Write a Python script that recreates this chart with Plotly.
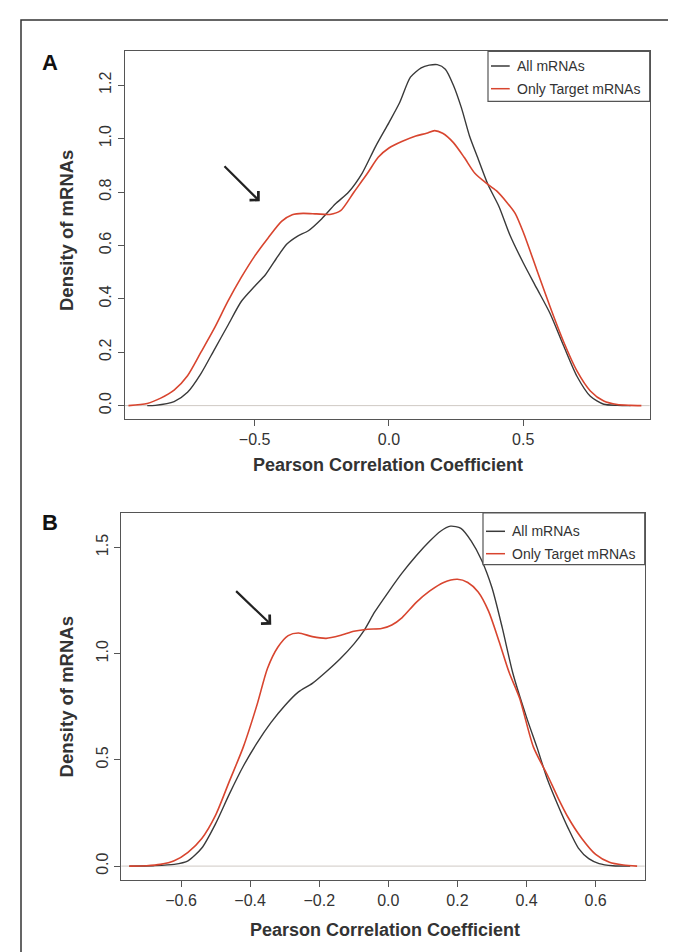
import plotly.graph_objects as go

# ---------------- data ----------------
# Panel A
a_all_x = [-0.90, -0.87, -0.80, -0.75, -0.70, -0.65, -0.60, -0.55, -0.50, -0.46, -0.42, -0.38,
           -0.34, -0.30, -0.25, -0.20, -0.15, -0.10, -0.05, 0.00, 0.04, 0.08, 0.12, 0.15, 0.18,
           0.21, 0.24, 0.27, 0.30, 0.33, 0.37, 0.41, 0.45, 0.50, 0.55, 0.60, 0.65, 0.70, 0.75,
           0.80, 0.85, 0.90]
a_all_y = [0.0, 0.001, 0.015, 0.05, 0.12, 0.21, 0.30, 0.39, 0.447, 0.49, 0.55, 0.605,
           0.635, 0.655, 0.70, 0.755, 0.80, 0.87, 0.97, 1.06, 1.135, 1.23, 1.265, 1.275, 1.277,
           1.26, 1.20, 1.115, 1.01, 0.93, 0.825, 0.745, 0.64, 0.535, 0.44, 0.345, 0.225, 0.11, 0.035,
           0.005, 0.001, 0.0]
a_tgt_x = [-0.97, -0.90, -0.85, -0.80, -0.75, -0.70, -0.65, -0.60, -0.55, -0.50, -0.45, -0.40,
           -0.36, -0.32, -0.27, -0.22, -0.18, -0.13, -0.08, -0.04, 0.00, 0.05, 0.10, 0.14, 0.17,
           0.20, 0.24, 0.28, 0.32, 0.36, 0.40, 0.44, 0.47, 0.50, 0.55, 0.60, 0.65, 0.70, 0.75,
           0.80, 0.85, 0.90, 0.94]
a_tgt_y = [0.0, 0.008, 0.028, 0.058, 0.112, 0.20, 0.29, 0.39, 0.48, 0.56, 0.628, 0.69,
           0.715, 0.72, 0.718, 0.716, 0.73, 0.80, 0.87, 0.93, 0.965, 0.99, 1.01, 1.02, 1.03,
           1.02, 0.985, 0.93, 0.87, 0.835, 0.805, 0.76, 0.72, 0.65, 0.51, 0.37, 0.24, 0.13, 0.055,
           0.017, 0.004, 0.001, 0.0]

# Panel B
b_all_x = [-0.75, -0.68, -0.62, -0.58, -0.54, -0.50, -0.46, -0.42, -0.38, -0.34, -0.30, -0.26,
           -0.22, -0.18, -0.14, -0.10, -0.07, -0.04, 0.00, 0.04, 0.08, 0.12, 0.15, 0.18, 0.21,
           0.24, 0.27, 0.30, 0.33, 0.36, 0.40, 0.43, 0.46, 0.49, 0.52, 0.55, 0.58, 0.61, 0.65, 0.70]
b_all_y = [0.0, 0.002, 0.008, 0.025, 0.085, 0.20, 0.34, 0.47, 0.58, 0.675, 0.755, 0.82,
           0.86, 0.915, 0.975, 1.045, 1.11, 1.195, 1.29, 1.38, 1.46, 1.53, 1.575, 1.60, 1.59,
           1.53, 1.44, 1.31, 1.12, 0.91, 0.70, 0.56, 0.41, 0.29, 0.18, 0.085, 0.035, 0.012, 0.002, 0.0]
b_tgt_x = [-0.75, -0.70, -0.66, -0.62, -0.58, -0.54, -0.50, -0.46, -0.42, -0.38, -0.35, -0.32,
           -0.29, -0.26, -0.22, -0.18, -0.14, -0.10, -0.06, -0.02, 0.01, 0.04, 0.08, 0.12, 0.16,
           0.20, 0.23, 0.26, 0.29, 0.32, 0.35, 0.38, 0.42, 0.46, 0.49, 0.52, 0.56, 0.60, 0.64,
           0.68, 0.72]
b_tgt_y = [0.0, 0.002, 0.008, 0.025, 0.065, 0.13, 0.24, 0.40, 0.56, 0.76, 0.93, 1.03,
           1.085, 1.097, 1.08, 1.072, 1.085, 1.105, 1.115, 1.118, 1.135, 1.17, 1.24, 1.295, 1.335,
           1.35, 1.335, 1.29, 1.20, 1.06, 0.91, 0.79, 0.56, 0.43, 0.325, 0.23, 0.13, 0.055, 0.018,
           0.005, 0.0]

series_names = ["All mRNAs", "Only Target mRNAs"]
a_xticks = [-0.5, 0.0, 0.5]
a_xlabels = ["\u22120.5", "0.0", "0.5"]
a_yticks = [0.0, 0.2, 0.4, 0.6, 0.8, 1.0, 1.2]
a_ylabels = ["0.0", "0.2", "0.4", "0.6", "0.8", "1.0", "1.2"]
b_xticks = [-0.6, -0.4, -0.2, 0.0, 0.2, 0.4, 0.6]
b_xlabels = ["\u22120.6", "\u22120.4", "\u22120.2", "0.0", "0.2", "0.4", "0.6"]
b_yticks = [0.0, 0.5, 1.0, 1.5]
b_ylabels = ["0.0", "0.5", "1.0", "1.5"]

# ---------------- style ----------------
W, H = 676, 952
BLACK = "#3a3a3a"
RED = "#d8452f"
AX = "#555555"
FONT = "Liberation Sans, Arial, sans-serif"


def px(p):
    return p / W


def py(p):
    return 1 - p / H


fig = go.Figure()
fig.add_trace(go.Scatter(x=a_all_x, y=a_all_y, mode="lines", name=series_names[0],
                         line=dict(color=BLACK, width=1.4, shape="spline", smoothing=0.7),
                         xaxis="x", yaxis="y", showlegend=False))
fig.add_trace(go.Scatter(x=a_tgt_x, y=a_tgt_y, mode="lines", name=series_names[1],
                         line=dict(color=RED, width=1.6, shape="spline", smoothing=0.7),
                         xaxis="x", yaxis="y", showlegend=False))
fig.add_trace(go.Scatter(x=b_all_x, y=b_all_y, mode="lines", name=series_names[0],
                         line=dict(color=BLACK, width=1.4, shape="spline", smoothing=0.7),
                         xaxis="x2", yaxis="y2", showlegend=False))
fig.add_trace(go.Scatter(x=b_tgt_x, y=b_tgt_y, mode="lines", name=series_names[1],
                         line=dict(color=RED, width=1.6, shape="spline", smoothing=0.7),
                         xaxis="x2", yaxis="y2", showlegend=False))

axcommon = dict(showline=True, mirror=True, linecolor=AX, linewidth=1.2, ticks="outside",
                ticklen=6, tickcolor=AX, tickwidth=1.2, showgrid=False, zeroline=False,
                tickfont=dict(family=FONT, size=16, color="#333333"), tickmode="array")

fig.update_layout(
    width=W, height=H, margin=dict(l=0, r=0, t=0, b=0),
    paper_bgcolor="white", plot_bgcolor="white", showlegend=False,
    xaxis=dict(domain=[px(116.7), px(641.7)], range=[-0.984, 0.971], anchor="y",
               tickvals=a_xticks, ticktext=a_xlabels, **axcommon),
    yaxis=dict(domain=[py(410.7), py(43.3)], range=[-0.049, 1.327], anchor="x",
               tickvals=a_yticks, ticktext=a_ylabels, tickangle=-90, **axcommon),
    xaxis2=dict(domain=[px(113.3), px(636.7)], range=[-0.773, 0.742], anchor="y2",
                tickvals=b_xticks, ticktext=b_xlabels, **axcommon),
    yaxis2=dict(domain=[py(871.7), py(505)], range=[-0.064, 1.662], anchor="x2",
                tickvals=b_yticks, ticktext=b_ylabels, tickangle=-90, **axcommon),
)

shapes = []
# outer frame
shapes.append(dict(type="rect", xref="paper", yref="paper", x0=px(13), x1=px(669),
                   y0=-0.01, y1=py(12), line=dict(color="#333333", width=1.5)))
# zero baselines
for xr, yr in (("x", "y"), ("x2", "y2")):
    shapes.append(dict(type="line", xref=xr + " domain", yref=yr, x0=0, x1=1, y0=0, y1=0,
                       line=dict(color="#cfc9c4", width=1), layer="below"))

annotations = []


def label(x, y, text, size, color="#333333", angle=0, xanchor="center"):
    annotations.append(dict(xref="paper", yref="paper", x=px(x), y=py(y), text=text,
                            showarrow=False, xanchor=xanchor, yanchor="middle",
                            textangle=angle, font=dict(family=FONT, size=size, color=color)))


# legends (drawn manually)
legends = [
    dict(box=(480, 641.7, 43.3, 93.3), rows=(58, 80.7), lx=(483, 501.7), tx=506.7),
    dict(box=(475, 636.7, 505, 556.7), rows=(523.3, 545.7), lx=(478, 497), tx=502),
]
for lg in legends:
    x0, x1, y0, y1 = lg["box"]
    shapes.append(dict(type="rect", xref="paper", yref="paper", x0=px(x0), x1=px(x1),
                       y0=py(y1), y1=py(y0), line=dict(color=AX, width=1.2),
                       fillcolor="white", layer="above"))
    for name, col, ry in zip(series_names, (BLACK, RED), lg["rows"]):
        shapes.append(dict(type="line", xref="paper", yref="paper", x0=px(lg["lx"][0]),
                           x1=px(lg["lx"][1]), y0=py(ry), y1=py(ry),
                           line=dict(color=col, width=1.5)))
        label(lg["tx"], ry, name, 14, xanchor="left")

# panel letters
label(42, 54, "<b>A</b>", 22, color="#111111")
label(42, 514, "<b>B</b>", 22, color="#111111")

# axis titles
label(380, 456.7, "<b>Pearson Correlation Coefficient</b>", 18)
label(377, 921.7, "<b>Pearson Correlation Coefficient</b>", 18)
label(58, 222, "<b>Density of mRNAs</b>", 18.5, angle=-90)
label(58, 688.4, "<b>Density of mRNAs</b>", 18.5, angle=-90)

# arrows
annotations.append(dict(xref="x", yref="y", axref="x", ayref="y", x=-0.481, y=0.765,
                        ax=-0.618, ay=0.902, text="", showarrow=True, arrowhead=4,
                        arrowsize=1.1, arrowwidth=2.2, arrowcolor="#222222"))
annotations.append(dict(xref="x2", yref="y2", axref="x2", ayref="y2", x=-0.339, y=1.136,
                        ax=-0.445, ay=1.301, text="", showarrow=True, arrowhead=4,
                        arrowsize=1.1, arrowwidth=2.2, arrowcolor="#222222"))

fig.update_layout(shapes=shapes, annotations=annotations)
fig.write_html("out.html")
